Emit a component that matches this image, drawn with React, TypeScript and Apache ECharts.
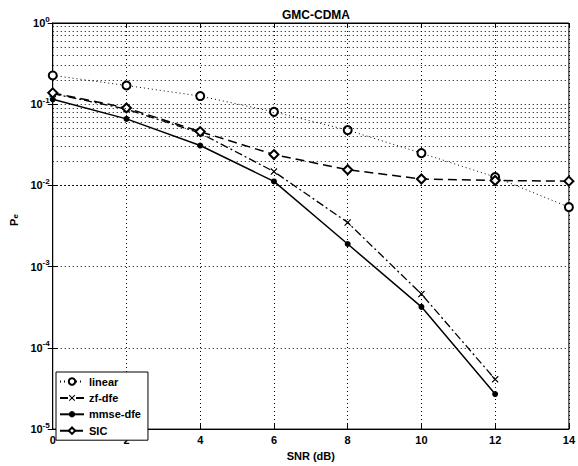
import React, { useEffect, useRef } from "react";
import * as echarts from "echarts";

const snr = [0, 2, 4, 6, 8, 10, 12, 14];
const linear = [0.226, 0.17, 0.126, 0.0805, 0.048, 0.025, 0.0127, 0.0054];
const zfDfe = [0.135, 0.087, 0.044, 0.0148, 0.0035, 0.00046, 0.000041];
const mmseDfe = [0.115, 0.066, 0.031, 0.0112, 0.0019, 0.00032, 0.000027];
const sic = [0.138, 0.09, 0.046, 0.024, 0.0156, 0.012, 0.0115, 0.0113];
const xTicks = [0, 2, 4, 6, 8, 10, 12, 14];
const decades = [-5, -4, -3, -2, -1, 0];
const minorMultipliers = [2, 3, 4, 5, 6, 7, 8, 9];

const FONT = "Liberation Sans, Arial, Helvetica, sans-serif";
const X_MARK =
  "path://M0,1.2 L1.2,0 L5,3.8 L8.8,0 L10,1.2 L6.2,5 L10,8.8 L8.8,10 L5,6.2 L1.2,10 L0,8.8 L3.8,5 Z";

export default function App() {
  const ref = useRef<HTMLDivElement>(null);
  useEffect(() => {
    if (!ref.current) return;
    const chart = echarts.init(ref.current, null, { renderer: "svg" });
    const pair = (ys: number[]) => ys.map((y, i) => [snr[i], y]);
    const minorLines: any[] = [];
    decades.slice(0, -1).forEach((d) => {
      minorMultipliers.forEach((m) => minorLines.push({ yAxis: m * Math.pow(10, d) }));
    });
    const gridDots = { type: [1, 3] as any, color: "#000", width: 1 };
    const labelFmt = (v: number) => {
      const e = Math.round(Math.log10(v));
      return `{b|10}{s|${e}}`;
    };
    const rich = {
      b: { fontSize: 11, fontFamily: FONT, color: "#000", fontWeight: "bold" as any },
      s: {
        fontSize: 8,
        fontFamily: FONT,
        color: "#000",
        fontWeight: "bold" as any,
        padding: [0, 0, 8, 0],
      },
    };
    chart.setOption({
      animation: false,
      backgroundColor: "#fff",
      title: {
        text: "GMC-CDMA",
        left: 277,
        top: 4,
        textStyle: { fontSize: 12, fontFamily: FONT, fontWeight: "bold", color: "#000" },
      },
      grid: {
        left: 49,
        right: 5,
        top: 23,
        bottom: 33,
        show: true,
        borderColor: "#000",
        borderWidth: 1,
        backgroundColor: "#fff",
      },
      legend: {
        orient: "vertical",
        left: 56,
        top: 372,
        padding: [4, 7, 4, 3],
        itemGap: 5.4,
        itemWidth: 24,
        itemHeight: 8,
        backgroundColor: "#fff",
        borderColor: "#000",
        borderWidth: 1,
        borderRadius: 0,
        textStyle: { fontSize: 11, fontFamily: FONT, color: "#000", fontWeight: "bold" },
        data: ["linear", "zf-dfe", "mmse-dfe", "SIC"],
      },
      xAxis: [
        {
          type: "value",
          min: 0,
          max: 14,
          interval: 2,
          name: "SNR (dB)",
          nameLocation: "middle",
          nameGap: 19,
          nameTextStyle: { fontSize: 11, fontFamily: FONT, color: "#000", fontWeight: "bold" },
          axisLine: { lineStyle: { color: "#000", width: 1 } },
          axisTick: { inside: true, length: 5, lineStyle: { color: "#000" } },
          axisLabel: {
            margin: 5,
            fontSize: 11,
            fontFamily: FONT,
            color: "#000",
            fontWeight: "bold",
            formatter: (v: number) => (xTicks.includes(v) ? String(v) : ""),
          },
          splitLine: { show: true, lineStyle: gridDots },
        },
        {
          type: "value",
          min: 0,
          max: 14,
          interval: 2,
          position: "top",
          axisLine: { lineStyle: { color: "#000" } },
          axisTick: { inside: true, length: 5, lineStyle: { color: "#000" } },
          axisLabel: { show: false },
          splitLine: { show: false },
        },
      ],
      yAxis: [
        {
          type: "log",
          logBase: 10,
          min: 1e-5,
          max: 1,
          name: "P{e|e}",
          nameLocation: "middle",
          nameRotate: 90,
          nameGap: 29,
          nameTextStyle: {
            fontSize: 11,
            fontFamily: FONT,
            color: "#000",
            fontWeight: "bold",
            padding: [0, 0, 0, 12],
            rich: {
              e: { fontSize: 8, fontFamily: FONT, fontWeight: "bold", color: "#000", padding: [4, 0, 0, 0] },
            },
          },
          axisLine: { lineStyle: { color: "#000", width: 1 } },
          axisTick: { inside: true, length: 5, lineStyle: { color: "#000" } },
          minorTick: { show: false },
          axisLabel: { margin: 3, formatter: labelFmt, rich },
          splitLine: { show: true, lineStyle: gridDots },
        },
        {
          type: "log",
          logBase: 10,
          min: 1e-5,
          max: 1,
          position: "right",
          axisLine: { lineStyle: { color: "#000" } },
          axisTick: { inside: true, length: 5, lineStyle: { color: "#000" } },
          axisLabel: { show: false },
          splitLine: { show: false },
        },
      ],
      series: [
        {
          name: "linear",
          type: "line",
          data: pair(linear),
          symbol: "emptyCircle",
          symbolSize: 8,
          color: "#000",
          itemStyle: { color: "#000", borderColor: "#000", borderWidth: 1.2 },
          lineStyle: { color: "#000", width: 1, type: [1, 3] },
          markLine: {
            silent: true,
            symbol: ["none", "none"],
            label: { show: false },
            lineStyle: gridDots,
            emphasis: { disabled: true },
            data: minorLines,
          },
          z: 3,
        },
        {
          name: "zf-dfe",
          type: "line",
          data: pair(zfDfe),
          symbol: X_MARK,
          symbolSize: 7,
          color: "#000",
          itemStyle: { color: "#000" },
          lineStyle: { color: "#000", width: 1.3, type: [8, 3, 2, 3] },
          z: 4,
        },
        {
          name: "mmse-dfe",
          type: "line",
          data: pair(mmseDfe),
          symbol: "circle",
          symbolSize: 6,
          color: "#000",
          itemStyle: { color: "#000" },
          lineStyle: { color: "#000", width: 1.5, type: "solid" },
          z: 5,
        },
        {
          name: "SIC",
          type: "line",
          data: pair(sic),
          symbol: "emptyDiamond",
          symbolSize: 9,
          color: "#000",
          itemStyle: { color: "#000", borderColor: "#000", borderWidth: 1.2 },
          lineStyle: { color: "#000", width: 1.5, type: [9, 5] },
          z: 4,
        },
      ],
    });
    return () => chart.dispose();
  }, []);
  return (
    <div
      ref={ref}
      style={{ position: "fixed", left: 0, top: 0, width: 578, height: 466, background: "#fff" }}
    />
  );
}
